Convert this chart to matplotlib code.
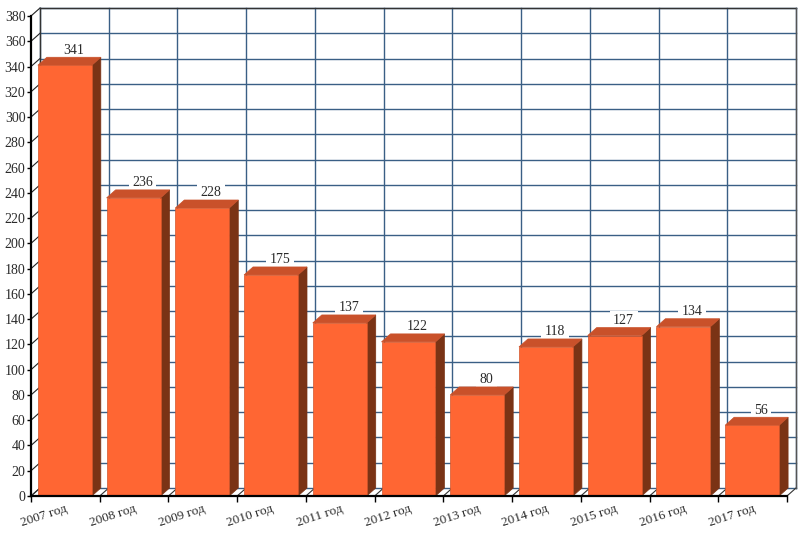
import matplotlib
matplotlib.use("Agg")
import matplotlib.pyplot as plt
from matplotlib.patches import Polygon

years = ["2007 год", "2008 год", "2009 год", "2010 год", "2011 год", "2012 год",
         "2013 год", "2014 год", "2015 год", "2016 год", "2017 год"]
values = [341, 236, 228, 175, 137, 122, 80, 118, 127, 134, 56]
y_ticks = list(range(0, 381, 20))

FRONT, TOP, SIDE = "#FF6633", "#C9512A", "#7A3315"
GRID = "#3A5F85"

plt.rcParams["font.family"] = ["Liberation Serif", "DejaVu Serif"]
W, H = 800, 533
fig = plt.figure(figsize=(W / 100, H / 100), dpi=100, facecolor="white")
ax = fig.add_axes([31 / W, (H - 496) / H, 756 / W, 480 / H])
n = len(years)
ax.set_xlim(0, n)
ax.set_ylim(0, 380)
pxx = n / 756
pxy = 380 / 480
dx, dy = 9 * pxx, 8 * pxy

for s in ("top", "right"):
    ax.spines[s].set_visible(False)
for s in ("left", "bottom"):
    ax.spines[s].set_linewidth(1.6)
    ax.spines[s].set_color("black")
    ax.spines[s].set_zorder(6)

# back wall grid
for v in y_ticks:
    ax.plot([dx, n + dx], [v + dy, v + dy], color=GRID, lw=1.0, clip_on=False, zorder=1)
    ax.plot([0, dx], [v, v + dy], color="#222222", lw=0.8, clip_on=False, zorder=1)
for i in range(n + 1):
    ax.plot([i + dx, i + dx], [dy, 380 + dy], color=GRID, lw=1.0, clip_on=False, zorder=1)
    ax.plot([i, i + dx], [0, dy], color="#333333", lw=0.8, clip_on=False, zorder=1)
ax.plot([dx, dx], [dy, 380 + dy], color="#333333", lw=1.0, clip_on=False, zorder=1.1)
ax.plot([dx, n + dx], [380 + dy, 380 + dy], color="#333333", lw=1.0, clip_on=False, zorder=1.1)
ax.plot([n + dx, n + dx], [dy, 380 + dy], color="#555555", lw=1.0, clip_on=False, zorder=1.1)

# bars
bar_w = 0.785
for i, v in enumerate(values):
    x0 = i + 0.1
    x1 = x0 + bar_w
    ax.add_patch(Polygon([(x1, 0), (x1 + dx, dy), (x1 + dx, v + dy), (x1, v)],
                         closed=True, fc=SIDE, ec=SIDE, lw=0.5, clip_on=False, zorder=3))
    ax.add_patch(Polygon([(x0, v), (x1, v), (x1 + dx, v + dy), (x0 + dx, v + dy)],
                         closed=True, fc=TOP, ec=TOP, lw=0.5, clip_on=False, zorder=3))
    ax.bar(x0, v, width=bar_w, align="edge", color=FRONT, edgecolor="#D2562B",
           linewidth=0.5, zorder=4)
    ax.text(x0 + bar_w / 2 + dx, v + dy + 7 * pxy, str(v), ha="center", va="center",
            fontsize=10, color="#2A2A2A", zorder=2, clip_on=False,
            bbox=dict(fc="white", ec="none", pad=2.5))

ax.set_yticks(y_ticks)
ax.set_yticklabels([str(v) for v in y_ticks], fontsize=10, color="#2A2A2A")
ax.tick_params(axis="y", length=3, width=1, pad=1, color="black")
ax.set_xticks(range(n + 1))
ax.set_xticklabels([])
ax.tick_params(axis="x", length=4, width=1, color="black")

for i, lab in enumerate(years):
    ax.annotate(lab, xy=(i + 0.5, 0), xytext=(0, -7), xycoords="data", textcoords="offset pixels",
                rotation=18, rotation_mode="anchor", ha="right", va="top",
                fontsize=9.5, color="#2A2A2A", annotation_clip=False)

fig.savefig("out.png", dpi=100)
